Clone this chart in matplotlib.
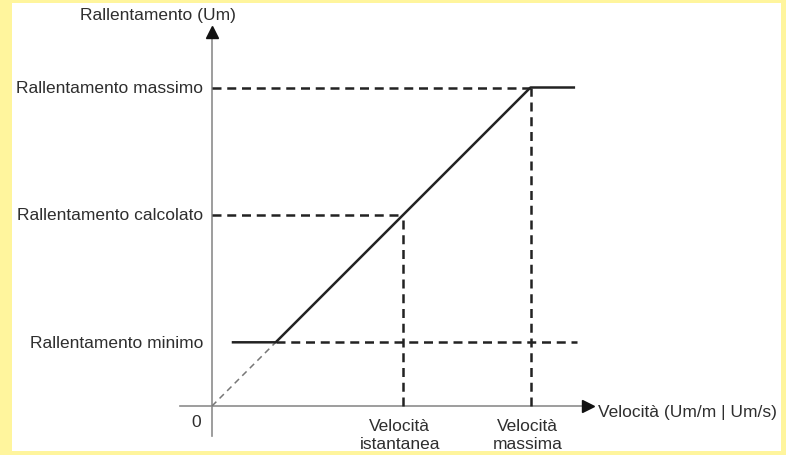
import matplotlib.pyplot as plt
from matplotlib.patches import Rectangle

# Valori dello schema (unita' arbitrarie, pendenza 1)
velocita = [1, 3, 5]          # minima, istantanea, massima
rallentamento = [1, 3, 5]     # minimo, calcolato, massimo
etichette_y = ['Rallentamento minimo', 'Rallentamento calcolato', 'Rallentamento massimo']
etichette_x = ['Velocità\nistantanea', 'Velocità\nmassima']

giallo = '#fff59d'
testo = '#2e2e2e'
linea = '#222222'
grigio = '#8c8c8c'

plt.rcParams['font.family'] = ['Liberation Sans', 'DejaVu Sans']
fs = 12.5

fig = plt.figure(figsize=(7.86, 4.56), dpi=100, facecolor=giallo)
ax = fig.add_axes([0, 0, 1, 1])
ax.patch.set_alpha(0)
ax.axis('off')
u = 63.7  # pixel per unita'
ax.set_xlim(-212 / u, (786 - 212) / u)
ax.set_ylim(-49 / u, (456 - 49) / u)

# riquadro bianco
ax.add_patch(Rectangle((12 / 786, 4 / 456), 769 / 786, 448 / 456,
                       transform=fig.transFigure, facecolor='white',
                       edgecolor='none', zorder=0, clip_on=False))

# assi
ax.plot([-0.5, 5.9], [0, 0], color=grigio, lw=1.2, zorder=2)
ax.plot([0, 0], [-0.47, 5.87], color=grigio, lw=1.2, zorder=2)
ax.plot([5.9], [0], marker='>', color='#111111', markersize=8, zorder=3)
ax.plot([0], [5.87], marker='^', color='#111111', markersize=8, zorder=3)

v_min, v_ist, v_max = velocita
r_min, r_calc, r_max = rallentamento
tratt = dict(color=linea, lw=1.8, linestyle=(0, (3.6, 2.3)), zorder=2)

# linee tratteggiate di riferimento
ax.plot([0, v_max], [r_max, r_max], **tratt)
ax.plot([0, v_ist], [r_calc, r_calc], **tratt)
ax.plot([v_min, 5.73], [r_min, r_min], **tratt)
ax.plot([v_ist, v_ist], [0, r_calc], **tratt)
ax.plot([v_max, v_max], [0, r_max], **tratt)
ax.plot([0, v_min], [0, r_min], color='#777777', lw=1.1, linestyle=(0, (4, 3)), zorder=2)

# curva di rallentamento
ax.plot([0.31, v_min, v_max, 5.7], [r_min, r_min, r_max, r_max],
        color=linea, lw=1.8, solid_capstyle='butt', zorder=4)

# etichette
for r, lab in zip(rallentamento, etichette_y):
    ax.text(-0.14, r, lab, ha='right', va='center', fontsize=fs, color=testo)
for v, lab in zip(velocita[1:], etichette_x):
    ax.text(v - 0.05, -0.19, lab, ha='center', va='top', fontsize=fs, color=testo,
            linespacing=1.2)
ax.text(-0.25, -0.24, '0', ha='center', va='center', fontsize=fs, color=testo)
ax.text(-0.85, 6.15, 'Rallentamento (Um)', ha='center', va='center', fontsize=fs, color=testo)
ax.text(6.06, -0.08, 'Velocità (Um/m | Um/s)', ha='left', va='center', fontsize=fs, color=testo)

fig.savefig('out.png', dpi=100, facecolor=giallo)
